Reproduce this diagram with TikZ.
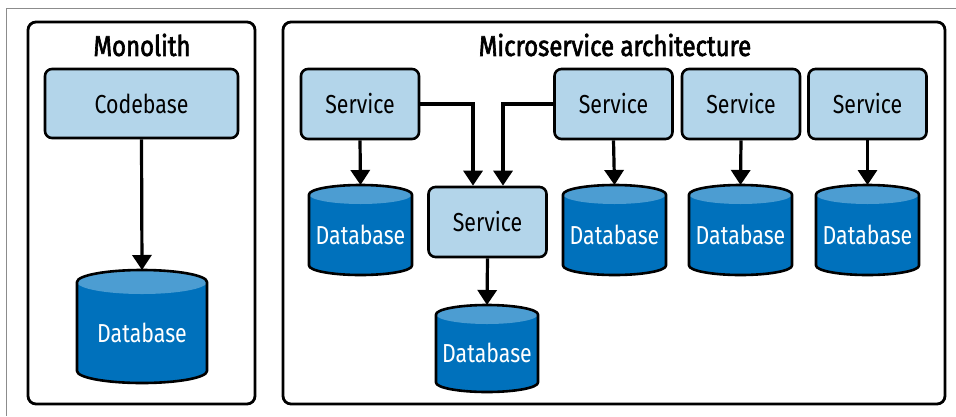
\documentclass[tikz,border=0pt]{standalone}
\usepackage{fontspec}
\setmainfont[FakeStretch=0.82]{Fira Sans}
\newfontfamily\titlefont[FakeStretch=0.84,FakeBold=2.2]{Fira Sans}
\usetikzlibrary{arrows.meta}
\definecolor{svcfill}{RGB}{179,213,234}
\definecolor{dbbody}{RGB}{0,113,188}
\definecolor{dbcap}{RGB}{76,157,210}
\definecolor{framegray}{RGB}{140,140,140}
\tikzset{
  panel/.style={draw=black, line width=2.8pt, rounded corners=8pt},
  svc/.style={draw=black, fill=svcfill, line width=2.6pt, rounded corners=7pt,
    minimum width=118pt, minimum height=70pt, inner sep=0pt,
    font=\fontsize{26}{28}\selectfont},
  ttl/.style={font=\titlefont\fontsize{28.5}{30}\selectfont, inner sep=0pt},
  dbarea/.style={minimum width=#1, inner sep=0pt, outer sep=0pt},
  dbtext/.style={text=white, inner sep=0pt, font=\fontsize{26}{28}\selectfont},
  conn/.style={line width=3.2pt, -{Triangle[width=19pt,length=15pt]}},
}
% name, cx, top, bottom, halfwidth, ry
\newcommand\dbcyl[6]{%
  \fill[dbbody] ({#2-#5},{#3+#6}) -- ({#2-#5},{#4-#6})
     arc[start angle=180,end angle=360,x radius=#5pt,y radius=#6pt]
     -- ({#2+#5},{#3+#6})
     arc[start angle=0,end angle=180,x radius=#5pt,y radius=#6pt] -- cycle;
  \fill[dbcap] (#2,{#3+#6}) ellipse[x radius=#5pt,y radius=#6pt];
  \draw[line width=2.6pt, line join=round] ({#2-#5},{#3+#6}) -- ({#2-#5},{#4-#6})
     arc[start angle=180,end angle=360,x radius=#5pt,y radius=#6pt]
     -- ({#2+#5},{#3+#6})
     arc[start angle=0,end angle=180,x radius=#5pt,y radius=#6pt] -- cycle;
  \node[dbarea={2*#5pt}, minimum height={(#4-#3)*1pt}] (#1) at (#2,{(#3+#4)/2}) {};
  \node[dbtext] (#1t) at (#2,{(#3+#6+#4)/2}) {Database};
}
\begin{document}
\begin{tikzpicture}[x=1pt,y=-1pt]
\useasboundingbox (0,0) rectangle (956,416);
\draw[framegray, line width=1pt] (956,8) -- (6,8) -- (6,416);
% panels
\draw[panel] (28,22) rectangle (255,404);
\draw[panel] (283,22) rectangle (945,404);
\node[ttl] (t1) at (142,45) {Monolith};
\node[ttl] (t2) at (615,45) {Microservice architecture};
% monolith
\node[svc, minimum width=193pt, minimum height=69pt] (cb) at (141.5,103.5) {Codebase};
\dbcyl{dbm}{142}{270}{383}{65}{12}
\draw[conn] (cb.south) -- (dbm.north);
% services
\node[svc] (s1) at (360,104) {Service};
\node[svc] (s2) at (487.5,222) {Service};
\node[svc] (s3) at (613.5,104) {Service};
\node[svc] (s4) at (741,104) {Service};
\node[svc] (s5) at (867.5,104) {Service};
\dbcyl{d1}{360.5}{185}{275}{51.5}{9.5}
\dbcyl{d2}{487}{305}{392}{51}{9.5}
\dbcyl{d3}{614.5}{185}{275}{51.5}{9.5}
\dbcyl{d4}{740.5}{185}{275}{51.5}{9.5}
\dbcyl{d5}{867.5}{185}{275}{51.5}{9.5}
\draw[conn] (s1.south) -- (d1.north);
\draw[conn] (s2.south) -- (d2.north);
\draw[conn] (s3.south) -- (d3.north);
\draw[conn] (s4.south) -- (d4.north);
\draw[conn] (s5.south) -- (d5.north);
\draw[conn] (s1.east) -| ([xshift=-14.5pt]s2.north);
\draw[conn] (s3.west) -| ([xshift=15.5pt]s2.north);
\end{tikzpicture}
\end{document}
